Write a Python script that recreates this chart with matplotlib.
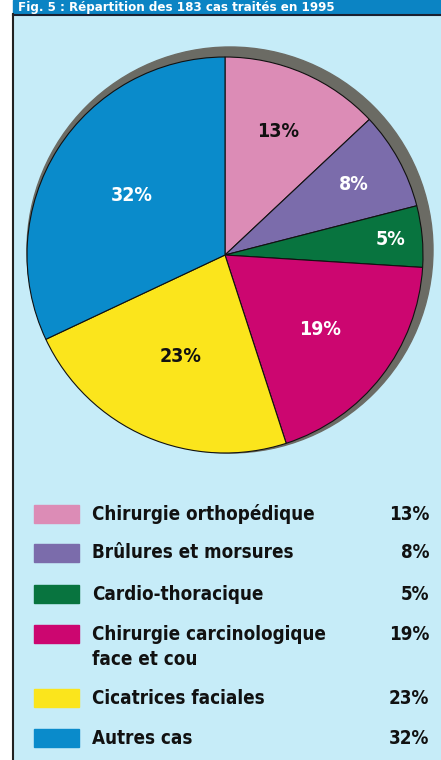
import numpy as np
import matplotlib.pyplot as plt
from matplotlib.patches import Circle, Rectangle

# data
categories = ["Chirurgie orthopédique", "Brûlures et morsures", "Cardio-thoracique",
              "Chirurgie carcinologique\nface et cou", "Cicatrices faciales", "Autres cas"]
values = [13, 8, 5, 19, 23, 32]
colors = ["#dc8cb6", "#7b6cab", "#08743f", "#cc0670", "#fbe51c", "#0a8bcb"]
label_colors = ["#111111", "white", "white", "white", "#111111", "white"]
label_radius = [0.68, 0.74, 0.84, 0.61, 0.56, 0.56]

W, H = 441, 760
fig = plt.figure(figsize=(4.41, 7.60), dpi=100)
fig.patch.set_facecolor("white")
ax = fig.add_axes([0, 0, 1, 1])

font = dict(family="DejaVu Sans", fontstretch="condensed", fontweight="bold")

# panel background, title band, left border
ax.add_patch(Rectangle((13, 0), W - 13, H - 14, color="#c6ecf8", zorder=0))
ax.add_patch(Rectangle((13, H - 14), W - 13, 14, color="#0b84c4", zorder=0))
ax.plot([13, W], [H - 14.5, H - 14.5], color="#1a2030", lw=1.5, zorder=1)
ax.plot([13, 13], [0, H - 14], color="#222222", lw=1.5, zorder=1)
ax.text(18, H - 7, "Fig. 5 : Répartition des 183 cas traités en 1995",
        color="white", fontsize=9.5, va="center", ha="left", zorder=2, **font)

# pie with grey shadow ring
cx, cy, r = 225, H - 255, 198
ax.add_patch(Circle((cx + 5, cy + 5), r + 5, color="#6b6b64", zorder=1))
wedges, _ = ax.pie(values, colors=colors, startangle=90, counterclock=False,
                   center=(cx, cy), radius=r, frame=True,
                   wedgeprops=dict(edgecolor="#111111", linewidth=0.8))
for w in wedges:
    w.set_zorder(2)
ax.set_xlim(0, W)
ax.set_ylim(0, H)
ax.set_aspect("equal")
ax.axis("off")

start = 90.0
for v, c, d in zip(values, label_colors, label_radius):
    mid = np.deg2rad(start - v * 3.6 / 2)
    start -= v * 3.6
    ax.text(cx + d * r * np.cos(mid), cy + d * r * np.sin(mid), f"{v}%",
            color=c, fontsize=14, ha="center", va="center", zorder=3, **font)

# legend
rows = [514, 553, 594, 634, 698, 738]
for y, name, v, c in zip(rows, categories, values, colors):
    ax.add_patch(Rectangle((34, H - y - 9), 45, 18, color=c, zorder=2))
    ty = H - y - 13 if "\n" in name else H - y
    ax.text(92, ty, name, fontsize=13.5, color="#111111", ha="left", va="center",
            linespacing=1.35, zorder=3, **font)
    ax.text(429, H - y, f"{v}%", fontsize=13.5, color="#111111",
            ha="right", va="center", zorder=3, **font)

fig.savefig("out.png", dpi=100, facecolor=fig.get_facecolor())
